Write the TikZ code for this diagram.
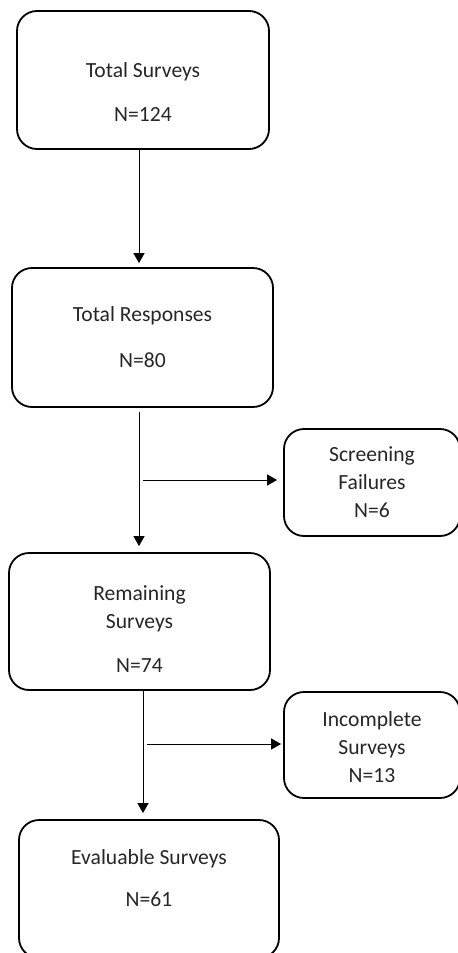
\documentclass[tikz,border=0pt]{standalone}
\usepackage{fontspec}
\setmainfont{Carlito}
\usetikzlibrary{arrows.meta}

\tikzset{
  flowbox/.style={draw,line width=0.9pt,rounded corners=10pt},
  flowtext/.style={align=center,font=\fontsize{10.8}{14}\selectfont,text=black!85},
  flowarrow/.style={-{Triangle[length=5pt,width=5.5pt]},line width=0.5pt},
}

\begin{document}
\begin{tikzpicture}[x=0.5pt,y=-0.5pt]
\useasboundingbox (0,0) rectangle (458,953);
\clip (0,0) rectangle (458,953);

%%%%%%%%%%%%%%%%%%%%%%%%%%%%%%%%%%%%%%%%%%%%%%%%%%%%%%%%%%%%%%%%%
%%%%%%%%%%%%%%%%%%%%%%%%%%%%%%
\node [flowbox,minimum width=126pt,minimum height=69pt,
  label={[flowtext,yshift=-6pt]center:{Total Surveys\\[8pt]N=124}}] (total) at (143,80) {};

\node [flowbox,minimum width=130.5pt,minimum height=69.5pt,
  label={[flowtext]center:{Total Responses\\[9pt]N=80}}] (responses) at (142.5,337.5) {};
\draw [flowarrow,shorten >=2pt] ([xshift=-2pt]total.south) -- ([xshift=-2pt]total.south |- responses.north);

\node [flowbox,minimum width=88pt,minimum height=53.5pt,
  label={[flowtext]center:{Screening\\Failures\\N=6}}] (screening) at (372,482.5) {};

\node [flowbox,minimum width=130.5pt,minimum height=68.5pt,
  label={[flowtext,yshift=-3.75pt]center:{Remaining\\Surveys\\[8pt]N=74}}] (remaining) at (139.5,621.5) {};
\draw [flowarrow,shorten <=2pt,shorten >=3pt] ([xshift=-1.75pt]responses.south) -- ([xshift=-1.75pt]responses.south |- remaining.north);

\coordinate (split1) at (143,480);
\draw [flowarrow,shorten >=3pt] (split1) -- (split1 -| screening.west);


\node [flowbox,minimum width=88pt,minimum height=53pt,
  label={[flowtext,yshift=-1pt]center:{Incomplete\\Surveys\\N=13}}] (incomplete) at (372,745) {};

\node [flowbox,minimum width=130pt,minimum height=69pt,
  label={[flowtext,yshift=5.5pt]center:{Evaluable Surveys\\[7pt]N=61}}] (evaluable) at (149,889) {};
\draw [flowarrow,shorten >=3pt] ([xshift=1.75pt]remaining.south) -- ([xshift=1.75pt]remaining.south |- evaluable.north);

\coordinate (split2) at (147,744);
\draw [flowarrow,shorten >=1pt] (split2) -- (split2 -| incomplete.west);

%%%%%%%%%%%%%%%%%%%%%%%%%%%%%%%%%%%%%%%%%%%%%%%%%%%%%%%%%%%%%%%%%

\end{tikzpicture}
\end{document}
